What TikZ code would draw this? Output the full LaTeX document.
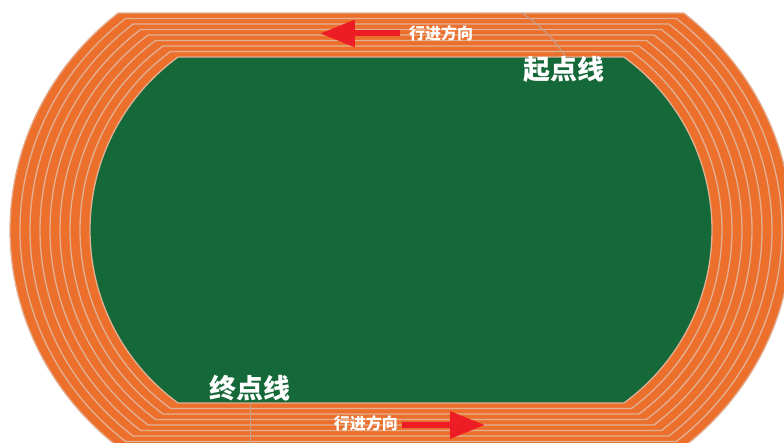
\documentclass[tikz,border=0pt]{standalone}
\usepackage{fontspec}
\newfontfamily\cjk{Noto Sans CJK SC}
\usetikzlibrary{arrows.meta}
\definecolor{piste}{RGB}{236,112,44}
\definecolor{gazon}{RGB}{21,104,56}
\definecolor{couloir}{RGB}{226,176,148}
\definecolor{fleche}{RGB}{238,28,36}
\tikzset{
lanebord/.style={draw=couloir,line width=1.3pt},
sens/.style={text=white,font=\cjk\bfseries\fontsize{16}{16}\selectfont},
ligne/.style={text=white,font=\cjk\bfseries\fontsize{27}{27}\selectfont},
flechesens/.style={draw=fleche,line width=6pt,-{Triangle[length=35pt,width=26pt]}},
repere/.style={draw=couloir!70!gray,line width=1pt}
}
\begin{document}
\begin{tikzpicture}[x=1pt,y=1pt]
\useasboundingbox (-401,-213) rectangle (383,230);
\begin{scope}
\clip (-401,-213) rectangle (383,230);
\foreach \i in {8,...,0}
{
\pgfmathsetmacro{\rx}{214+10*\i}
\pgfmathsetmacro{\ry}{214+8.25*\i}
\pgfmathsetmacro{\hy}{173+5.5*\i}
\pgfmathsetmacro{\ang}{asin(\hy/\ry)}
\pgfmathsetmacro{\cx}{97+\rx*cos(\ang)}
\ifnum\i=0 \def\couleur{gazon}\else\def\couleur{piste}\fi
\filldraw[lanebord,fill=\couleur] (\cx,\hy) arc[start angle=\ang,end angle=-\ang,x radius=\rx,y radius=\ry]
  -- (-\cx,-\hy) arc[start angle=180+\ang,end angle=180-\ang,x radius=\rx,y radius=\ry] -- cycle;
}
\coordinate (departhaut) at (121,217);
\coordinate (departbas) at (165,173);
\draw[repere] (departhaut) to[bend left=10] (departbas);
\coordinate (arriveehaut) at (-150,-173);
\coordinate (arriveebas) at (-150,-213);
\draw[repere] (arriveehaut) -- (arriveebas);
\end{scope}
\node[sens] (senshaut) at (40,197) {行进方向};
\node[ligne] (depart) at (163,161) {起点线};
\node[ligne] (arrivee) at (-151,-158) {终点线};
\node[sens] (sensbas) at (-35,-193) {行进方向};
\coordinate (queuehaut) at (-1,196.5);
\coordinate (pointehaut) at (-81,196.5);
\draw[flechesens] (queuehaut) -- (pointehaut);
\coordinate (queuebas) at (1,-195);
\coordinate (pointebas) at (84,-195);
\draw[flechesens] (queuebas) -- (pointebas);
\end{tikzpicture}
\end{document}
